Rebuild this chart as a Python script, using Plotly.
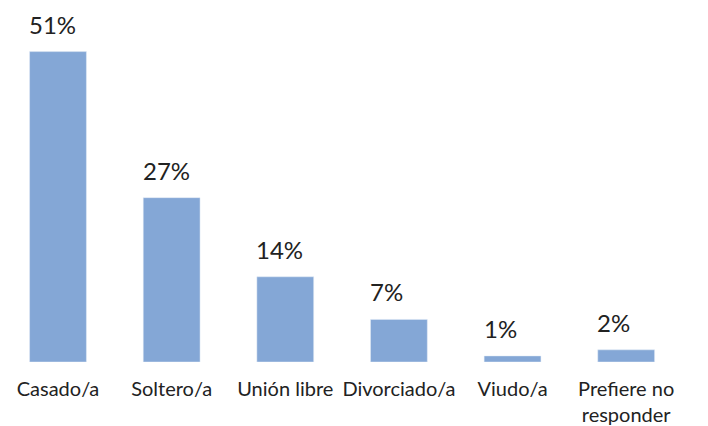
import plotly.graph_objects as go

categories = ['Casado/a', 'Soltero/a', 'Unión libre', 'Divorciado/a', 'Viudo/a', 'Prefiere no<br>responder']
values = [51, 27, 14, 7, 1, 2]
labels = ['51%', '27%', '14%', '7%', '1%', '2%']

bar_color = '#84A7D6'
font_family = 'Lato, Open Sans, sans-serif'

fig = go.Figure()
fig.add_trace(go.Bar(x=categories, y=values, marker_color=bar_color, width=0.5, hoverinfo='skip'))

# value labels sit left-aligned over each bar
for cat, val, lab in zip(categories, values, labels):
    fig.add_annotation(x=cat, y=val, text=lab, showarrow=False,
                       xanchor='left', yanchor='bottom', xshift=-31, yshift=11,
                       font=dict(family=font_family, size=24, color='#222222'))

# the page body adds an 8px offset, so margins are trimmed to compensate
fig.update_layout(
    width=708, height=426,
    margin=dict(l=0, r=33, t=1, b=72),
    plot_bgcolor='white', paper_bgcolor='white',
    showlegend=False,
    font=dict(family=font_family, size=20, color='#222222'),
)
fig.update_xaxes(showline=False, ticks='', ticklabelstandoff=13, tickfont=dict(size=20),
                 range=[-0.44, 5.5], automargin=False)
fig.update_yaxes(range=[0, 58], visible=False, automargin=False)

fig.write_html('out.html')
